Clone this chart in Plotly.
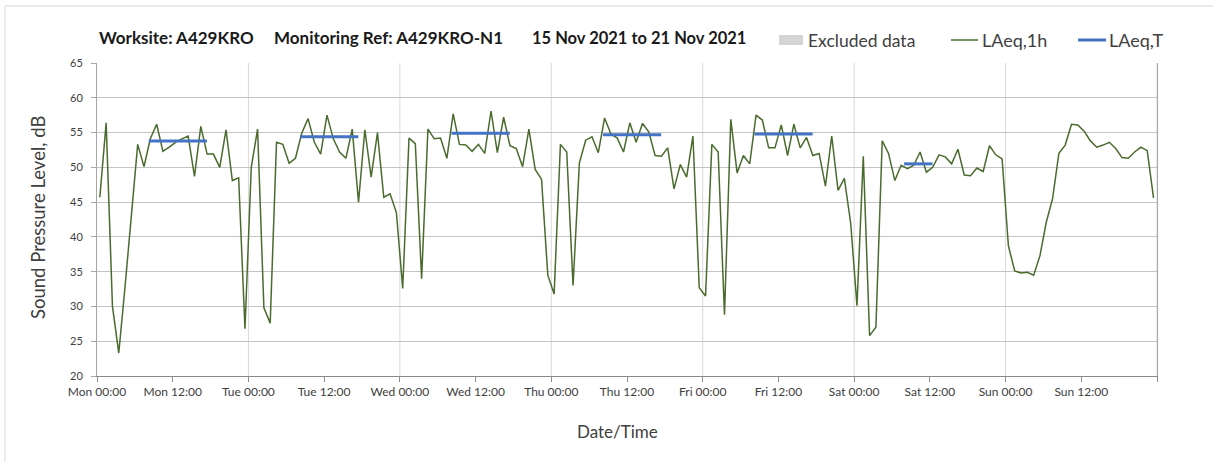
import plotly.graph_objects as go
import pandas as pd

# ---------------- data ----------------
first_stamp = "2021-11-15 00:27"   # hourly LAeq,1h values as plotted
laeq_1h = [
    # Mon
    45.7, 56.4, 30.0, 23.3, 32.9, 43.2, 53.3, 50.1, 54.1, 56.2, 52.3, 52.9,
    53.6, 54.1, 54.5, 48.7, 55.9, 51.9, 51.9, 50.0, 55.4, 48.1, 48.5, 26.8,
    # Tue
    50.0, 55.5, 29.8, 27.6, 53.6, 53.3, 50.6, 51.3, 54.9, 57.0, 53.6, 51.9,
    57.5, 54.1, 52.2, 51.3, 55.5, 45.0, 55.4, 48.6, 55.0, 45.7, 46.2, 43.5,
    # Wed
    32.6, 54.2, 53.4, 34.0, 55.5, 54.1, 54.2, 51.3, 57.7, 53.3, 53.2, 52.3,
    53.3, 52.0, 58.1, 52.1, 57.2, 53.1, 52.7, 50.1, 55.5, 49.7, 48.3, 34.5,
    # Thu
    31.8, 53.3, 52.2, 33.0, 50.6, 53.9, 54.4, 52.1, 57.1, 54.8, 54.2, 52.2,
    56.4, 53.6, 56.3, 55.1, 51.7, 51.6, 52.8, 46.9, 50.4, 48.6, 54.5, 32.7,
    # Fri
    31.5, 53.3, 52.2, 28.8, 56.9, 49.2, 51.7, 50.5, 57.5, 56.8, 52.8, 52.8,
    56.1, 51.7, 56.2, 52.8, 54.3, 51.7, 52.0, 47.3, 54.5, 46.7, 48.4, 42.0,
    # Sat
    30.1, 51.6, 25.8, 27.0, 53.8, 52.0, 48.1, 50.3, 49.8, 50.3, 52.2, 49.3,
    50.0, 51.8, 51.5, 50.5, 52.6, 48.9, 48.8, 49.9, 49.4, 53.1, 51.8, 51.2,
    # Sun
    38.7, 35.1, 34.8, 34.9, 34.5, 37.3, 42.1, 45.5, 52.0, 53.2, 56.2, 56.1,
    55.2, 53.8, 52.9, 53.2, 53.6, 52.7, 51.4, 51.3, 52.2, 52.9, 52.4, 45.6,
]

laeq_t_start = ["2021-11-15 08:12", "2021-11-16 08:12", "2021-11-17 08:12",
                "2021-11-18 08:12", "2021-11-19 08:12", "2021-11-20 07:55"]
laeq_t_end = ["2021-11-15 17:25", "2021-11-16 17:25", "2021-11-17 17:25",
              "2021-11-18 17:25", "2021-11-19 17:25", "2021-11-20 12:25"]
laeq_t_value = [53.8, 54.4, 54.9, 54.7, 54.8, 50.5]

tick_labels = ["Mon 00:00", "Mon 12:00", "Tue 00:00", "Tue 12:00", "Wed 00:00",
               "Wed 12:00", "Thu 00:00", "Thu 12:00", "Fri 00:00", "Fri 12:00",
               "Sat 00:00", "Sat 12:00", "Sun 00:00", "Sun 12:00", ""]

title_parts = ["Worksite: A429KRO", "Monitoring Ref: A429KRO-N1",
               "15 Nov 2021 to 21 Nov 2021"]
title_left_px = [97, 272, 530]

# ---------------- figure ----------------
W, H = 1213, 462
L, R, T, B = 97, 56, 63, 86
pw, ph = W - L - R, H - T - B

def px_x(p):
    return (p - L) / pw

def px_y(p):
    return 1 - (p - T) / ph

times = pd.date_range(first_stamp, periods=len(laeq_1h), freq="h")
tickvals = pd.date_range("2021-11-15 00:00", periods=len(tick_labels), freq="12h")
day_lines = pd.date_range("2021-11-16 00:00", "2021-11-22 00:00", freq="24h")

GREEN = "#4a6b2e"
BLUE = "#4472C4"
FONT = "Lato"
TXT = "#404040"

fig = go.Figure()
fig.add_trace(go.Scatter(x=times, y=laeq_1h, mode="lines", name="LAeq,1h",
                         line=dict(color=GREEN, width=1.5), showlegend=False))
for s, e, v in zip(laeq_t_start, laeq_t_end, laeq_t_value):
    fig.add_trace(go.Scatter(x=[s, e], y=[v, v], mode="lines", name="LAeq,T",
                             line=dict(color=BLUE, width=3), showlegend=False))

shapes = []
for d in day_lines:
    shapes.append(dict(type="line", xref="x", yref="paper", x0=d, x1=d, y0=0, y1=1,
                       line=dict(color="#d9d9d9", width=1), layer="below"))
# outer chart border (top / left)
shapes.append(dict(type="line", xref="paper", yref="paper", x0=px_x(5), x1=px_x(W),
                   y0=px_y(6), y1=px_y(6), line=dict(color="#d9d9d9", width=1)))
shapes.append(dict(type="line", xref="paper", yref="paper", x0=px_x(5), x1=px_x(5),
                   y0=px_y(6), y1=px_y(H), line=dict(color="#d9d9d9", width=1)))
# legend swatches
shapes.append(dict(type="rect", xref="paper", yref="paper", x0=px_x(779), x1=px_x(803),
                   y0=px_y(45), y1=px_y(35), fillcolor="#d4d4d4", line=dict(width=0)))
shapes.append(dict(type="line", xref="paper", yref="paper", x0=px_x(951), x1=px_x(978),
                   y0=px_y(40), y1=px_y(40), line=dict(color=GREEN, width=1.5)))
shapes.append(dict(type="line", xref="paper", yref="paper", x0=px_x(1078), x1=px_x(1106),
                   y0=px_y(40), y1=px_y(40), line=dict(color=BLUE, width=3)))

annotations = []
for txt, lp, fs in zip(title_parts, title_left_px, [17, 17, 16.5]):
    annotations.append(dict(text="<b>" + txt + "</b>", xref="paper", yref="paper",
                            x=px_x(lp), y=px_y(38), xanchor="left", yanchor="middle",
                            showarrow=False,
                            font=dict(family=FONT, size=fs, color="#1a1a1a")))
annotations += [
    dict(text="Excluded data", xref="paper", yref="paper", x=px_x(806), y=px_y(40),
         xanchor="left", yanchor="middle", showarrow=False,
         font=dict(family=FONT, size=17.5, color=TXT)),
    dict(text="LAeq,1h", xref="paper", yref="paper", x=px_x(980), y=px_y(40),
         xanchor="left", yanchor="middle", showarrow=False,
         font=dict(family=FONT, size=18, color=TXT)),
    dict(text="LAeq,T", xref="paper", yref="paper", x=px_x(1107), y=px_y(40),
         xanchor="left", yanchor="middle", showarrow=False,
         font=dict(family=FONT, size=18, color=TXT)),
    dict(text="Sound Pressure Level, dB", xref="paper", yref="paper", x=px_x(38),
         y=px_y(218), xanchor="center", yanchor="middle", textangle=-90,
         showarrow=False, font=dict(family=FONT, size=18.5, color=TXT)),
    dict(text="Date/Time", xref="paper", yref="paper", x=px_x(617), y=px_y(431),
         xanchor="center", yanchor="middle", showarrow=False,
         font=dict(family=FONT, size=17, color=TXT)),
]

fig.update_layout(
    width=W, height=H,
    margin=dict(l=L, r=R, t=T, b=B, pad=0),
    paper_bgcolor="white", plot_bgcolor="white",
    showlegend=False,
    shapes=shapes, annotations=annotations,
    font=dict(family=FONT, color=TXT),
)
fig.update_xaxes(
    type="date", range=["2021-11-15 00:00", "2021-11-22 00:00"],
    tickmode="array", tickvals=tickvals, ticktext=tick_labels,
    showgrid=False, zeroline=False,
    showline=True, linecolor="#8c8c8c", linewidth=1,
    ticks="outside", ticklen=5, tickcolor="#8c8c8c",
    tickfont=dict(family=FONT, size=12, color=TXT),
)
fig.update_yaxes(
    range=[20, 65], dtick=5, tick0=20,
    showgrid=True, gridcolor="#c4c4c4", gridwidth=1, zeroline=False,
    showline=True, linecolor="#a6a6a6", linewidth=1, mirror=True,
    ticks="outside", ticklen=5, tickcolor="#a6a6a6", ticklabelstandoff=6,
    tickfont=dict(family=FONT, size=11, color=TXT),
)

fig.write_html("out.html",
               config={"displayModeBar": False},
               post_script="document.body.style.margin='0px';")
